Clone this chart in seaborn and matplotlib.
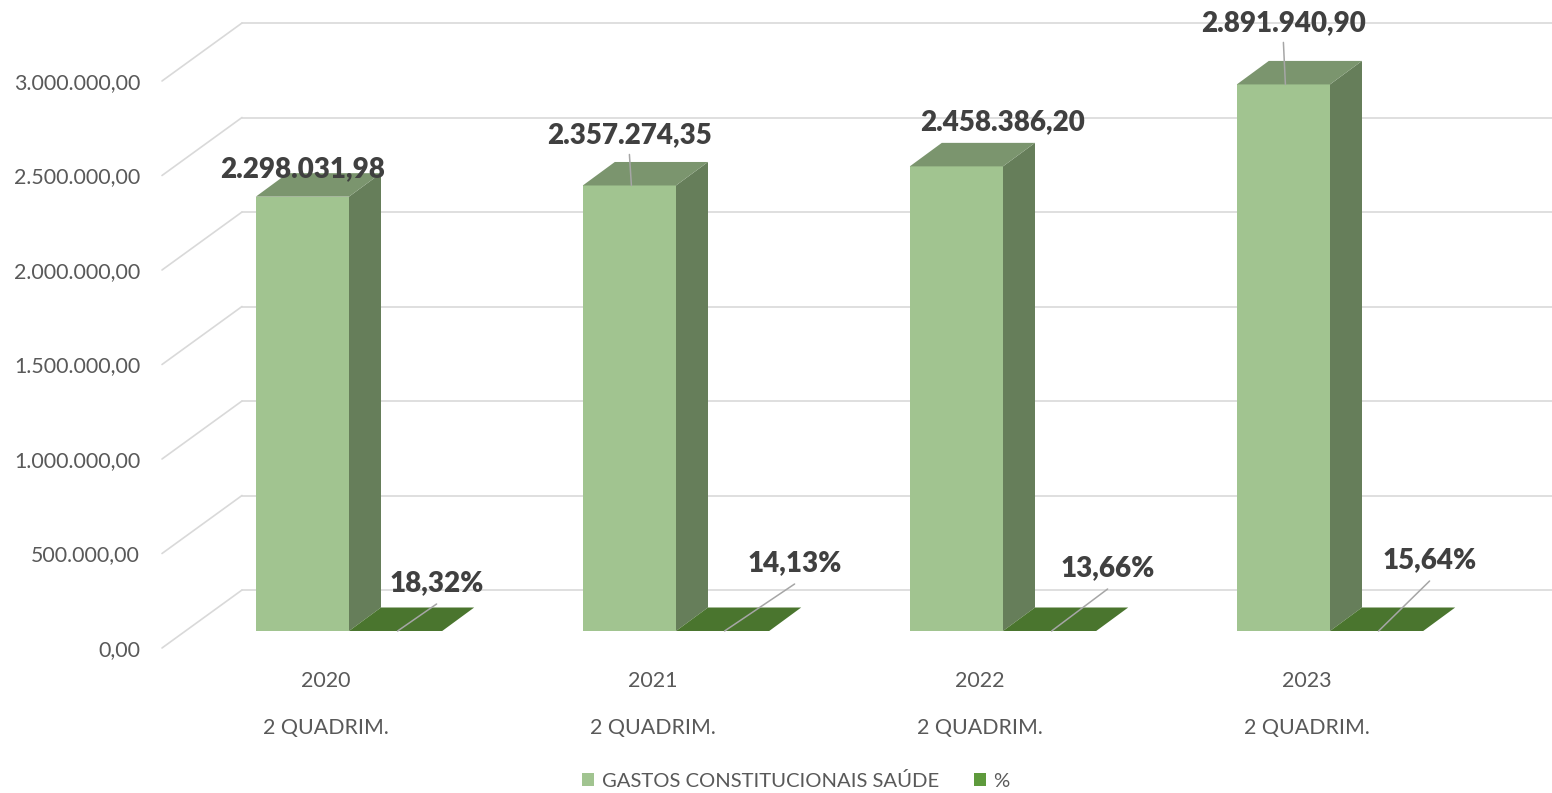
import pandas as pd
import seaborn as sns
import matplotlib.pyplot as plt
from matplotlib.patches import Polygon

# dados do grafico
anos = ['2020', '2021', '2022', '2023']
periodo = '2 QUADRIM.'
gastos = [2298031.98, 2357274.35, 2458386.20, 2891940.90]
percentual = [18.32, 14.13, 13.66, 15.64]
series = ['GASTOS CONSTITUCIONAIS SAÚDE', '%']
y_ticks = [0, 500000, 1000000, 1500000, 2000000, 2500000, 3000000]

# cores
cor_frente = '#A1C490'
cor_lado = '#667E5A'
cor_topo = '#7B956E'
cor_pct = '#5E9A3C'
cor_pct_topo = '#4A752E'
cor_grade = '#D9D9D9'
cor_texto = '#595959'
cor_rotulo = '#404040'
cor_guia = '#A6A6A6'

W, H = 1552, 793
PX_Y = 94.5 / 500000      # pixels por unidade de valor
PX_X = 327                # pixels por categoria
X0 = 349                  # pixel da categoria 0
BASE = 631                # linha de base das barras (pixel)
AX_L, AX_B = 162, 660


def hx(p):
    return p / PX_X


def hy(p):
    return p / PX_Y


def fmt_br(v, dec=2):
    s = f'{v:,.{dec}f}'
    return s.replace(',', 'X').replace('.', ',').replace('X', '.')


df = pd.DataFrame({
    'ano': anos * 2,
    'valor': gastos + [p / 100 for p in percentual],
    'serie': [series[0]] * len(anos) + [series[1]] * len(anos),
})

sns.set_style('white')
plt.rcParams['font.family'] = ['Lato', 'DejaVu Sans']

fig = plt.figure(figsize=(W / 100, H / 100), dpi=100)
ax = fig.add_axes([AX_L / W, 1 - AX_B / H, (W - AX_L) / W, AX_B / H])

sns.barplot(data=df, x='ano', y='valor', hue='serie', order=anos, hue_order=series,
            palette=[cor_frente, cor_pct], width=0.57, saturation=1, errorbar=None,
            linewidth=0, ax=ax, zorder=2)

xl = (AX_L - X0) / PX_X
xr = (W - X0) / PX_X
ax.set_xlim(xl, xr)
ax.set_ylim(-hy(AX_B - BASE), hy(BASE))

# profundidade 3D
f0 = 17 / 58
wdx, wdy = hx(80), hy(58)
bdx, bdy = hx(32), hy(23.5)

# grade (parede lateral + parede do fundo)
for v in y_ticks:
    yf = v - f0 * wdy
    yb = v + (1 - f0) * wdy
    ax.plot([xl, xl + wdx], [yf, yb], color=cor_grade, lw=1.2, zorder=0, clip_on=False)
    ax.plot([xl + wdx, xr], [yb, yb], color=cor_grade, lw=1.2, zorder=0, clip_on=False)

ax.set_yticks([v - f0 * wdy for v in y_ticks])
ax.set_yticklabels([fmt_br(v) for v in y_ticks])
ax.tick_params(axis='y', length=0, pad=15.8, labelsize=15.4, labelcolor=cor_texto)
ax.set_xticks([])
ax.set(xlabel='', ylabel='')
sns.despine(ax=ax, left=True, bottom=True)

# faces laterais e superiores
topos = [cor_topo, cor_pct_topo]
for k, cont in enumerate(ax.containers):
    for bar in cont:
        x, w, h = bar.get_x(), bar.get_width(), bar.get_height()
        lado = Polygon([(x + w, 0), (x + w, h), (x + w + bdx, h + bdy), (x + w + bdx, bdy)],
                       closed=True, facecolor=cor_lado, edgecolor='none', zorder=2)
        topo = Polygon([(x, h), (x + w, h), (x + w + bdx, h + bdy), (x + bdx, h + bdy)],
                       closed=True, facecolor=topos[k], edgecolor='none', zorder=2)
        if k == 0:
            ax.add_patch(lado)
        ax.add_patch(topo)

# rotulos de valor (deslocamentos em pixels: dx, dy do centro do texto, guia)
rot_gastos = [(0, 30, False), (0, 52, True), (46, 46, False), (0, 63, True)]
rot_pct = [(41, 50), (72, 70), (58, 65), (53, 73)]

for bar, val, (dx, dy, guia) in zip(ax.containers[0], gastos, rot_gastos):
    cx = bar.get_x() + bar.get_width() / 2
    h = bar.get_height()
    ax.text(cx + hx(dx), h + hy(dy - 10), fmt_br(val), ha='center', va='baseline',
            fontsize=20, fontweight='heavy', color=cor_rotulo, zorder=5)
    if guia:
        ax.plot([cx, cx + hx(2)], [h + hy(dy - 21), h], color=cor_guia, lw=1.1, zorder=4)

for bar, val, (dx, dy) in zip(ax.containers[1], percentual, rot_pct):
    cx = bar.get_x() + bar.get_width() / 2
    ax.text(cx + hx(dx), hy(dy - 10), fmt_br(val) + '%', ha='center', va='baseline',
            fontsize=20, fontweight='heavy', color=cor_rotulo, zorder=5)
    ax.plot([cx + hx(2), cx + hx(dx)], [0, hy(dy - 23)], color=cor_guia, lw=1.1, zorder=4)

# categorias
for i, ano in enumerate(anos):
    ax.text(i - hx(23.5), -hy(687 - BASE), ano, ha='center', va='baseline',
            fontsize=15.4, color=cor_texto, clip_on=False)
    ax.text(i - hx(23.5), -hy(734 - BASE), periodo, ha='center', va='baseline',
            fontsize=15.4, color=cor_texto, clip_on=False)

sns.move_legend(ax, 'center', bbox_to_anchor=(796 / W, 1 - 781 / H),
                bbox_transform=fig.transFigure, ncol=2, frameon=False, title=None,
                handlelength=0.6, handleheight=0.6, handletextpad=0.35,
                columnspacing=1.75, fontsize=14.6)
for t in ax.get_legend().get_texts():
    t.set_color(cor_texto)

fig.savefig('out.png', dpi=100)
